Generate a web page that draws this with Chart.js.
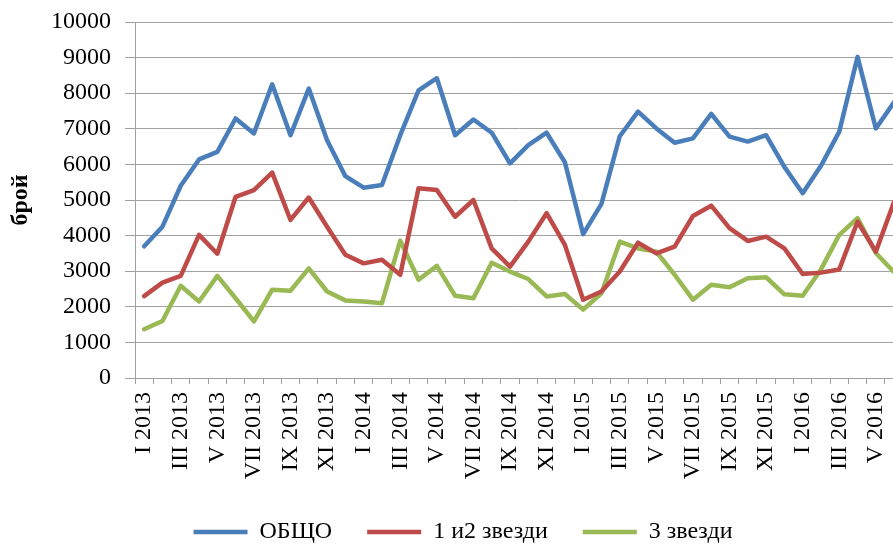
<!DOCTYPE html>
<html><head><meta charset="utf-8">
<script src="https://cdn.jsdelivr.net/npm/chart.js@4/dist/chart.umd.min.js"></script>
<style>html,body{margin:0;padding:0;overflow:hidden;background:#fff}#wrap{width:931px;height:554px}</style>
</head><body><div id="wrap"><canvas id="c" width="931" height="554"></canvas></div>
<script>
const categories = [
  'I 2013','II 2013','III 2013','IV 2013','V 2013','VI 2013','VII 2013','VIII 2013','IX 2013','X 2013','XI 2013','XII 2013',
  'I 2014','II 2014','III 2014','IV 2014','V 2014','VI 2014','VII 2014','VIII 2014','IX 2014','X 2014','XI 2014','XII 2014',
  'I 2015','II 2015','III 2015','IV 2015','V 2015','VI 2015','VII 2015','VIII 2015','IX 2015','X 2015','XI 2015','XII 2015',
  'I 2016','II 2016','III 2016','IV 2016','V 2016','VI 2016'
];
const seriesNames = ['ОБЩО', '1 и2 звезди', '3 звезди'];
const total = [3700,4250,5400,6140,6350,7290,6870,8250,6820,8130,6680,5670,
  5345,5420,6820,8080,8420,6820,7260,6890,6030,6540,6890,6060,
  4040,4890,6790,7480,7010,6610,6730,7420,6780,6640,6820,5930,
  5190,5960,6920,9020,7010,7750];
const stars12 = [2300,2680,2870,4020,3490,5090,5280,5770,4440,5070,4250,3460,
  3220,3320,2900,5330,5280,4530,5000,3640,3130,3830,4630,3740,
  2200,2430,2990,3800,3500,3690,4550,4840,4210,3850,3970,3640,
  2920,2960,3050,4390,3550,4950];
const stars3 = [1370,1600,2590,2150,2870,2240,1590,2480,2450,3080,2430,2180,
  2150,2100,3860,2760,3150,2310,2240,3240,2990,2780,2290,2360,
  1920,2380,3830,3640,3550,2900,2200,2620,2550,2800,2830,2350,
  2310,3050,4020,4490,3510,2970];
const yTitle = 'брой';

const FONT = 'Liberation Serif, Times New Roman, serif';
const GRID = '#A0A0A0';
function ds(label, data, color) {
  return {label, data, borderColor: color, backgroundColor: color, borderWidth: 4.5,
    pointRadius: 0, tension: 0, fill: false, borderJoinStyle: 'round', borderCapStyle: 'round'};
}
new Chart(document.getElementById('c').getContext('2d'), {
  type: 'line',
  data: {labels: categories, datasets: [
    ds(seriesNames[0], total, '#4A7EBB'),
    ds(seriesNames[1], stars12, '#BE4B48'),
    ds(seriesNames[2], stars3, '#98B954')
  ]},
  options: {
    responsive: false, animation: false,
    layout: {padding: {top: 22, right: 5, left: 0, bottom: 0}},
    plugins: {
      tooltip: {enabled: false},
      legend: {position: 'bottom', labels: {usePointStyle: true, pointStyle: 'line', pointStyleWidth: 54,
        font: {family: FONT, size: 24, lineHeight: 1}, color: '#000', padding: 35}}
    },
    scales: {
      x: {type: 'category', offset: true,
        grid: {offset: true, drawOnChartArea: false, drawTicks: true, tickLength: 6, color: GRID},
        border: {color: GRID},
        ticks: {autoSkip: false, maxRotation: 90, minRotation: 90, padding: 8, color: '#000',
          font: {family: FONT, size: 24},
          callback: function(v, i) { return i % 2 === 0 ? this.getLabelForValue(v) : ''; }},
        afterFit: s => { s.height = 107; }
      },
      y: {min: 0, max: 10000,
        grid: {color: GRID, tickLength: 10},
        border: {color: GRID},
        ticks: {stepSize: 1000, padding: 14, color: '#000', font: {family: FONT, size: 24},
          callback: v => String(v)},
        title: {display: true, text: yTitle, color: '#000', font: {family: FONT, size: 24, weight: 'bold'}, padding: {top: 6, bottom: 0}},
        afterFit: s => { s.width = 135; s.paddingTop = 0; s.paddingBottom = 0; }
      }
    }
  }
});
</script></body></html>
